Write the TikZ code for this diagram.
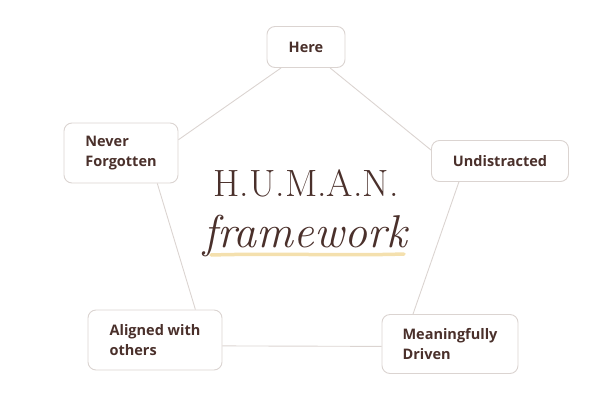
\documentclass[tikz,border=0pt]{standalone}
\usepackage{fontspec}
\setsansfont{Open Sans}
\definecolor{inkbrown}{HTML}{4A302B}
\definecolor{edgegray}{HTML}{DBD4D1}
\definecolor{lightgold}{HTML}{F4E0AE}
\tikzset{
    pillar/.style={draw=edgegray, line width=0.9pt, fill=white, rounded corners=8pt,
        inner xsep=19pt, inner ysep=0pt, align=left, text=inkbrown,
        font=\sffamily\bfseries\fontsize{14.5}{20}\selectfont},
    link/.style={draw=edgegray, line width=0.9pt}
}
\begin{document}
\begin{tikzpicture}[x=1pt,y=-1pt]
        \useasboundingbox (0,0) rectangle (616,405);

        % Define nodes
        \node[pillar, minimum width=78pt, minimum height=41pt] (here) at (306,47) {Here};
        \node[pillar, minimum width=114pt, minimum height=60pt] (never) at (121,153) {Never\\Forgotten};
        \node[pillar, minimum width=137pt, minimum height=41pt] (undis) at (500,161) {Undistracted};
        \node[pillar, minimum width=134pt, minimum height=60pt] (aligned) at (155,340) {Aligned with\\others};
        \node[pillar, minimum width=136pt, minimum height=59pt] (driven) at (450,344) {Meaningfully\\Driven};

        % Title
        \draw[lightgold, line width=3.5pt, line cap=round]
            (211,255) .. controls (280,253) and (340,256) .. (404,254);
        \node[anchor=base, text=inkbrown, font=\addfontfeatures{LetterSpace=12}\fontsize{38}{38}\selectfont] (human) at (306,196) {H.U.M.A.N.};
        \node[anchor=base, text=inkbrown, font=\itshape\fontsize{46}{46}\selectfont] (frame) at (305,247) {framework};

        % Draw edges
        \draw[link] (here.220) -- (never.13);
        \draw[link] (here.319) -- (undis.171);
        \draw[link] (undis.207) -- (driven.141);
        \draw[link] (driven.182) -- (aligned.355);
        \draw[link] (aligned.37) -- (never.320);
    \end{tikzpicture}
\end{document}
